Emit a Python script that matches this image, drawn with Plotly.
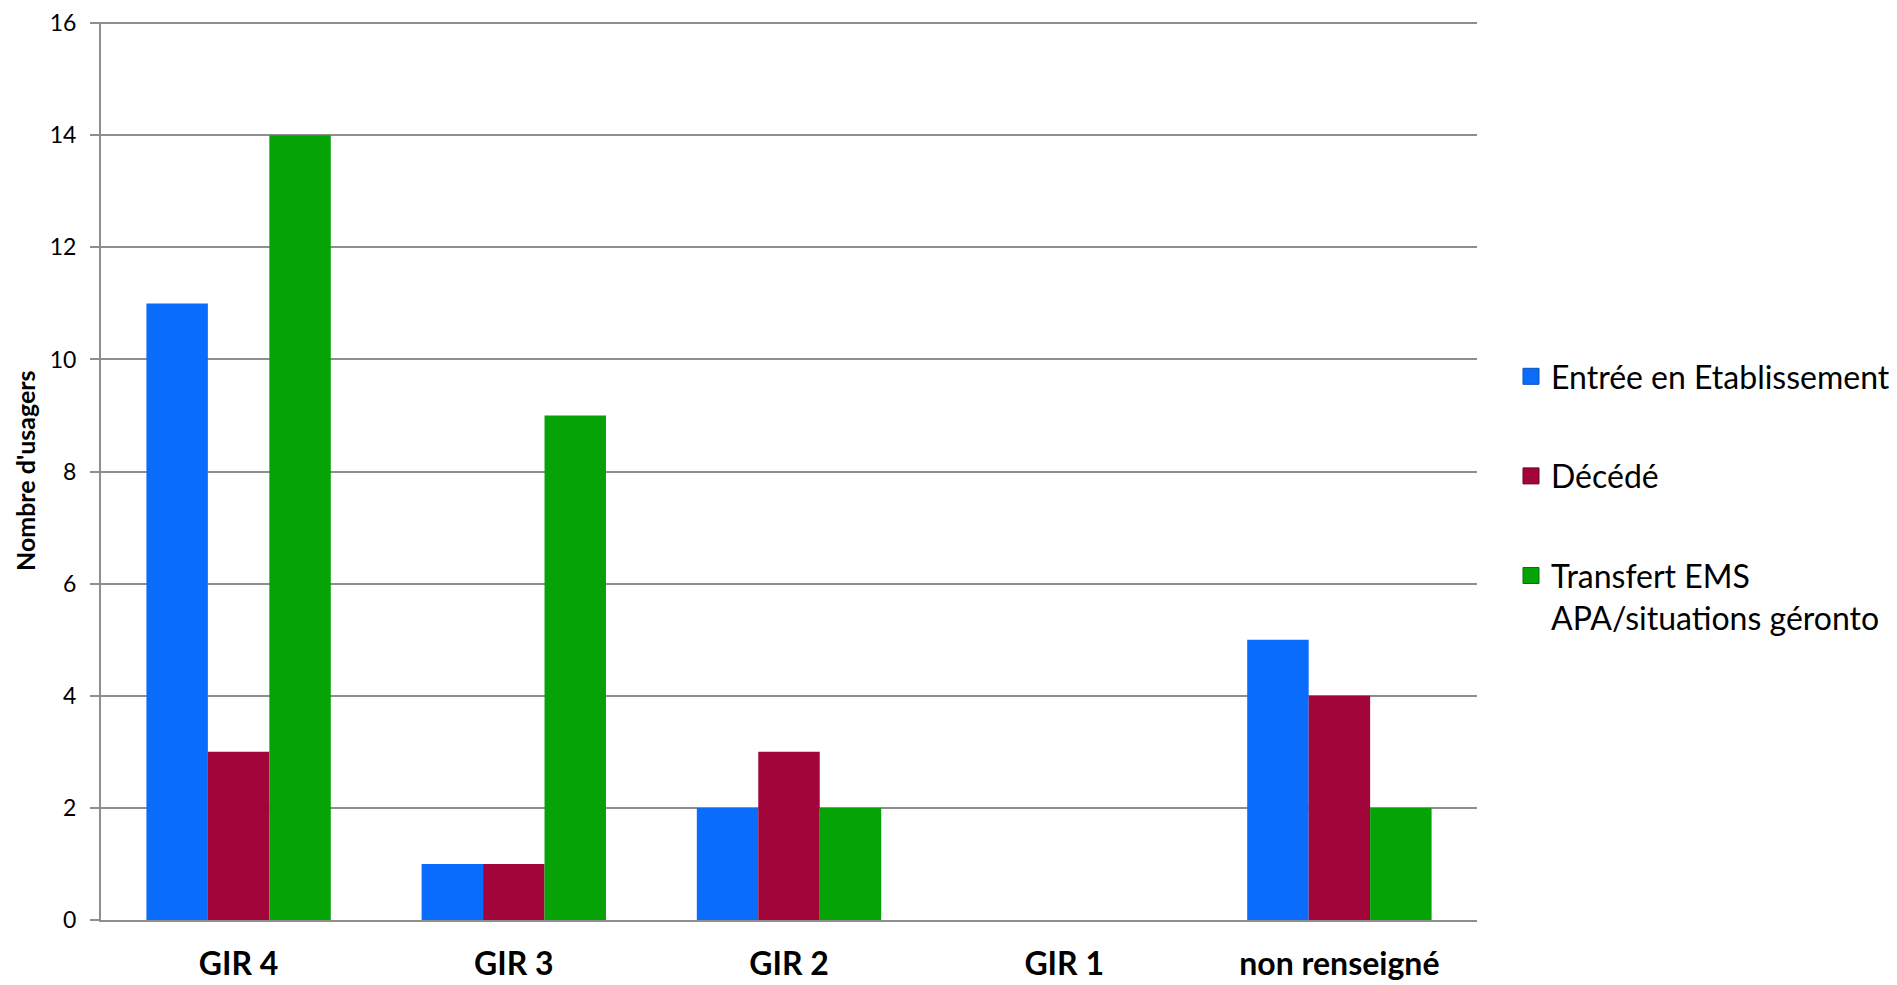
import plotly.graph_objects as go

categories = ["GIR 4", "GIR 3", "GIR 2", "GIR 1", "non renseigné"]
series_names = ["Entrée en Etablissement", "Décédé", "Transfert EMS<br>APA/situations géronto"]
entree = [11, 1, 2, 0, 5]
decede = [3, 1, 3, 0, 4]
transfert = [14, 9, 2, 0, 2]
y_ticks = [0, 2, 4, 6, 8, 10, 12, 14, 16]

colors = ["#0A6CFA", "#A1053A", "#06A306"]
line_colors = ["#0850B8", "#6E0328", "#047304"]
values = [entree, decede, transfert]

# page has an 8px body margin; figure fills the rest of the window
W, H = 1889, 977
L, R, T, B = 93, 420, 14, 65
PW, PH = W - L - R, H - T - B

fig = go.Figure()
for i, (name, vals) in enumerate(zip(series_names, values)):
    fig.add_trace(go.Bar(
        x=categories, y=vals, name=name,
        marker=dict(color=colors[i], line=dict(width=0)),
        showlegend=False,
    ))
    fig.add_trace(go.Scatter(
        x=[None], y=[None], mode="markers", name=name,
        legendgroup=f"g{i}",
        marker=dict(symbol="square", size=16, color=colors[i],
                    line=dict(color=line_colors[i], width=1)),
    ))

grid = "#8E8E8E"
fig.update_layout(
    width=W, height=H,
    margin=dict(l=L, r=R, t=T, b=B, autoexpand=False),
    paper_bgcolor="white", plot_bgcolor="white",
    barmode="group", bargap=0.33, bargroupgap=0,
    font=dict(family="Lato", color="black"),
    showlegend=True,
    legend=dict(
        x=(1503 - L) / PW, xanchor="left",
        y=(H - B - 341) / PH, yanchor="top",
        font=dict(family="Lato", size=32, color="black"),
        tracegroupgap=55, valign="top",
        bgcolor="rgba(0,0,0,0)",
    ),
    xaxis=dict(
        showgrid=False, showline=True, linecolor=grid, linewidth=2,
        ticks="", tickfont=dict(family="Lato", size=32, color="black", weight="bold"),
        ticklabelstandoff=15, automargin=False,
    ),
    yaxis=dict(
        range=[0, 16.02], tickvals=y_ticks, showgrid=True, gridcolor=grid, gridwidth=1.5,
        showline=True, linecolor=grid, linewidth=2, zeroline=False,
        ticks="outside", ticklen=9, tickcolor=grid, tickwidth=1.5,
        tickfont=dict(family="Lato", size=23, color="black"),
        ticklabelstandoff=9, automargin=False,
    ),
    annotations=[dict(
        text="<b>Nombre d'usagers</b>", textangle=-90, showarrow=False,
        xref="paper", yref="paper", x=(17 - L) / PW, y=0.5,
        xanchor="center", yanchor="middle",
        font=dict(family="Lato", size=25, color="black"),
    )],
)

fig.write_html("out.html")
